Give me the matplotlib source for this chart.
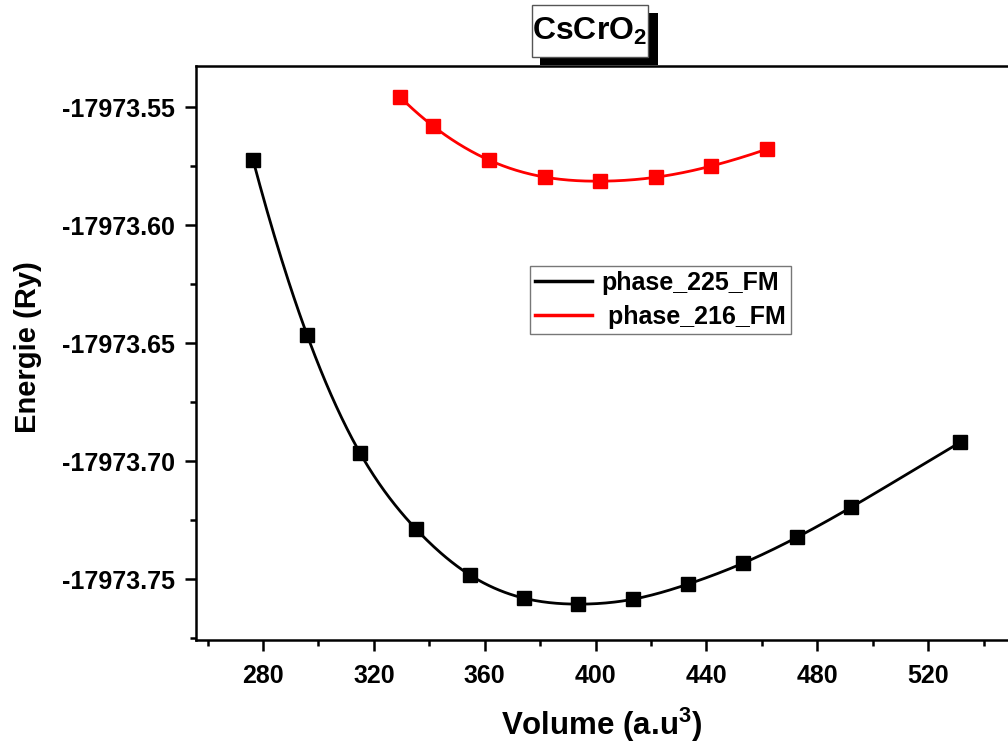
import numpy as np
import matplotlib
matplotlib.use('Agg')
import matplotlib.pyplot as plt
from matplotlib.patches import Rectangle
from matplotlib.ticker import MultipleLocator, FormatStrFormatter
from matplotlib.lines import Line2D

plt.rcParams['font.family'] = ['Liberation Sans', 'DejaVu Sans']
plt.rcParams['font.weight'] = 'bold'
plt.rcParams['mathtext.fontset'] = 'custom'
plt.rcParams['mathtext.rm'] = 'Liberation Sans:bold'
plt.rcParams['mathtext.bf'] = 'Liberation Sans:bold'

# phase 225 FM
vol_225 = [276.4, 295.9, 315.0, 335.2, 354.7, 374.2, 393.7, 413.6, 433.4, 453.3, 472.8, 492.3, 531.6]
e_225 = [-17973.5725, -17973.6466, -17973.6966, -17973.7288, -17973.7483, -17973.7581, -17973.7606,
         -17973.7585, -17973.7521, -17973.7432, -17973.7322, -17973.7195, -17973.6920]

# phase 216 FM
vol_216 = [329.5, 341.4, 361.6, 381.8, 401.7, 421.9, 441.7, 461.9]
e_216 = [-17973.5458, -17973.5581, -17973.5725, -17973.5797, -17973.5814, -17973.5797, -17973.5750, -17973.5678]

labels = ['phase_225_FM', ' phase_216_FM']


def spline(x, y, n=400):
    # not-a-knot cubic spline, only used to draw the smooth line
    x = np.asarray(x, float)
    y0 = y[0]
    y = np.asarray(y, float) - y0
    k = len(x)
    h = np.diff(x)
    A = np.zeros((k, k))
    b = np.zeros(k)
    A[0, 0], A[0, 1], A[0, 2] = h[1], -(h[0] + h[1]), h[0]
    A[-1, -3], A[-1, -2], A[-1, -1] = h[-1], -(h[-2] + h[-1]), h[-2]
    for i in range(1, k - 1):
        A[i, i - 1] = h[i - 1]
        A[i, i] = 2 * (h[i - 1] + h[i])
        A[i, i + 1] = h[i]
        b[i] = 3 * ((y[i + 1] - y[i]) / h[i] - (y[i] - y[i - 1]) / h[i - 1])
    c = np.linalg.solve(A, b)
    xs = np.linspace(x[0], x[-1], n)
    idx = np.clip(np.searchsorted(x, xs) - 1, 0, k - 2)
    dx = xs - x[idx]
    bb = (y[idx + 1] - y[idx]) / h[idx] - h[idx] * (2 * c[idx] + c[idx + 1]) / 3
    dd = (c[idx + 1] - c[idx]) / (3 * h[idx])
    ys = y[idx] + bb * dx + c[idx] * dx ** 2 + dd * dx ** 3
    return xs, ys + y0


W, H = 1008, 745
fig = plt.figure(figsize=(W / 100, H / 100), dpi=100)
ax = fig.add_axes([196 / W, 105 / H, 812 / W, 574 / H])

xs, ys = spline(vol_225, e_225)
ax.plot(xs, ys, color='black', lw=2)
ax.plot(vol_225, e_225, 's', color='black', ms=9.5, ls='none')

xs, ys = spline(vol_216, e_216)
ax.plot(xs, ys, color='red', lw=2)
ax.plot(vol_216, e_216, 's', color='red', ms=9.5, ls='none')

ax.set_xlim(255.8, 548.8)
ax.set_ylim(-17973.7758, -17973.5326)

ax.xaxis.set_major_locator(MultipleLocator(40))
ax.xaxis.set_minor_locator(MultipleLocator(20))
ax.yaxis.set_major_locator(MultipleLocator(0.05))
ax.yaxis.set_minor_locator(MultipleLocator(0.025))
ax.yaxis.set_major_formatter(FormatStrFormatter('%.2f'))

ax.tick_params(which='both', direction='out', width=1.8, labelsize=18, top=False, right=False)
ax.tick_params(which='major', length=8, pad=7)
ax.tick_params(axis='x', which='major', pad=9)
ax.tick_params(which='minor', length=4)
for s in ['left', 'bottom', 'top']:
    ax.spines[s].set_linewidth(1.8)
ax.spines['right'].set_visible(False)

ax.set_xlabel('Volume (a.u$^3$)', fontsize=22.5, fontweight='bold', labelpad=13)
ax.set_ylabel('Energie (Ry)', fontsize=21, fontweight='bold', labelpad=16)
ax.yaxis.set_label_coords(-0.19, 0.51)

handles = [Line2D([], [], color='black', lw=2.5), Line2D([], [], color='red', lw=2.5)]
leg = ax.legend(handles, labels, loc='upper left', bbox_to_anchor=(0.411, 0.652),
                prop={'size': 18, 'weight': 'bold'}, frameon=True, fancybox=False, handlelength=2.3,
                borderaxespad=0, borderpad=0.2, labelspacing=0.4, handletextpad=0.35)
leg.get_frame().set_edgecolor('#555555')
leg.get_frame().set_linewidth(1)

# title box with a black drop shadow
fig.patches.append(Rectangle((540 / W, 1 - 65 / H), 118 / W, 52 / H, transform=fig.transFigure,
                             fc='black', ec='none', zorder=1))
fig.patches.append(Rectangle((532 / W, 1 - 57 / H), 116 / W, 52 / H, transform=fig.transFigure,
                             fc='white', ec='#555555', lw=1, zorder=2))
fig.text(590 / W, 1 - 31 / H, 'CsCrO$_2$', fontsize=23, fontweight='bold',
         ha='center', va='center', zorder=3)

fig.savefig('out.png', dpi=100)
